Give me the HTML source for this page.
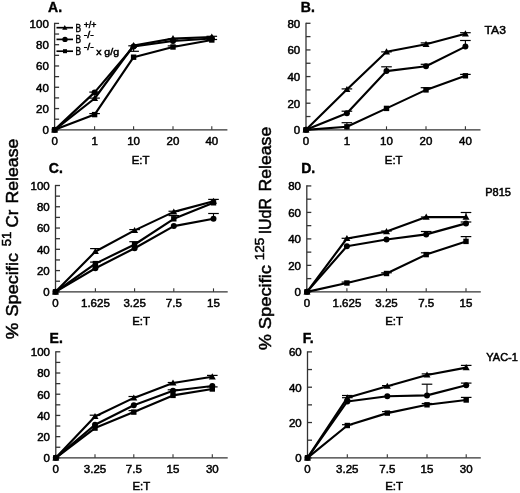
<!DOCTYPE html>
<html><head><meta charset="utf-8"><style>
html,body{margin:0;padding:0;background:#fff;}
svg{display:block;will-change:transform;}
text{font-family:"Liberation Sans", sans-serif;fill:#000;}
.tl{font-size:11.5px;stroke:#000;stroke-width:0.5px;}
.et{font-size:11.4px;stroke:#000;stroke-width:0.5px;}
.pl{font-size:14px;font-weight:bold;stroke:#000;stroke-width:0.4px;}
.cl{font-size:11px;stroke:#000;stroke-width:0.5px;}
.lg{stroke:#000;stroke-width:0.5px;}
.yl{stroke:#000;stroke-width:0.5px;}
</style></head><body>
<svg width="520" height="493" viewBox="0 0 520 493">
<rect width="520" height="493" fill="#fff"/>
<line x1="54.6" y1="22.80" x2="54.6" y2="129.85" stroke="#333" stroke-width="1.3"/>
<line x1="54.6" y1="129.85" x2="227.4" y2="129.85" stroke="#333" stroke-width="1.3"/>
<line x1="54.6" y1="129.85" x2="59.10" y2="129.85" stroke="#333" stroke-width="1.3"/>
<text x="48.80" y="134.25" text-anchor="end" class="tl">0</text>
<line x1="54.6" y1="119.20" x2="59.10" y2="119.20" stroke="#333" stroke-width="1.3"/>
<line x1="54.6" y1="108.56" x2="59.10" y2="108.56" stroke="#333" stroke-width="1.3"/>
<text x="48.80" y="112.96" text-anchor="end" class="tl">20</text>
<line x1="54.6" y1="97.91" x2="59.10" y2="97.91" stroke="#333" stroke-width="1.3"/>
<line x1="54.6" y1="87.27" x2="59.10" y2="87.27" stroke="#333" stroke-width="1.3"/>
<text x="48.80" y="91.67" text-anchor="end" class="tl">40</text>
<line x1="54.6" y1="76.62" x2="59.10" y2="76.62" stroke="#333" stroke-width="1.3"/>
<line x1="54.6" y1="65.98" x2="59.10" y2="65.98" stroke="#333" stroke-width="1.3"/>
<text x="48.80" y="70.38" text-anchor="end" class="tl">60</text>
<line x1="54.6" y1="55.33" x2="59.10" y2="55.33" stroke="#333" stroke-width="1.3"/>
<line x1="54.6" y1="44.69" x2="59.10" y2="44.69" stroke="#333" stroke-width="1.3"/>
<text x="48.80" y="49.09" text-anchor="end" class="tl">80</text>
<line x1="54.6" y1="34.04" x2="59.10" y2="34.04" stroke="#333" stroke-width="1.3"/>
<line x1="54.6" y1="23.40" x2="59.10" y2="23.40" stroke="#333" stroke-width="1.3"/>
<text x="48.80" y="27.80" text-anchor="end" class="tl">100</text>
<text x="54.6" y="145.05" text-anchor="middle" class="tl">0</text>
<line x1="94.6" y1="126.35" x2="94.6" y2="129.85" stroke="#333" stroke-width="1.1"/>
<text x="94.6" y="145.05" text-anchor="middle" class="tl">1</text>
<line x1="133.6" y1="126.35" x2="133.6" y2="129.85" stroke="#333" stroke-width="1.1"/>
<text x="133.6" y="145.05" text-anchor="middle" class="tl">10</text>
<line x1="173.0" y1="126.35" x2="173.0" y2="129.85" stroke="#333" stroke-width="1.1"/>
<text x="173.0" y="145.05" text-anchor="middle" class="tl">20</text>
<line x1="211.8" y1="126.35" x2="211.8" y2="129.85" stroke="#333" stroke-width="1.1"/>
<text x="211.8" y="145.05" text-anchor="middle" class="tl">40</text>
<text x="140.60" y="163.80" text-anchor="middle" class="et">E:T</text>
<line x1="89.30" y1="92.10" x2="99.90" y2="92.10" stroke="#000" stroke-width="1.2"/>
<line x1="89.30" y1="98.10" x2="99.90" y2="98.10" stroke="#000" stroke-width="1.2"/>
<line x1="94.60" y1="114.60" x2="94.60" y2="113.60" stroke="#000" stroke-width="1.1"/>
<line x1="89.30" y1="113.60" x2="99.90" y2="113.60" stroke="#000" stroke-width="1.2"/>
<line x1="128.30" y1="45.80" x2="138.90" y2="45.80" stroke="#000" stroke-width="1.2"/>
<line x1="133.60" y1="46.50" x2="133.60" y2="51.30" stroke="#000" stroke-width="1.1"/>
<line x1="128.30" y1="51.30" x2="138.90" y2="51.30" stroke="#000" stroke-width="1.2"/>
<line x1="167.70" y1="39.00" x2="178.30" y2="39.00" stroke="#000" stroke-width="1.2"/>
<line x1="173.00" y1="47.00" x2="173.00" y2="45.90" stroke="#000" stroke-width="1.1"/>
<line x1="167.70" y1="45.90" x2="178.30" y2="45.90" stroke="#000" stroke-width="1.2"/>
<line x1="211.80" y1="37.00" x2="211.80" y2="36.30" stroke="#000" stroke-width="1.1"/>
<line x1="206.50" y1="36.30" x2="217.10" y2="36.30" stroke="#000" stroke-width="1.2"/>
<line x1="206.50" y1="39.50" x2="217.10" y2="39.50" stroke="#000" stroke-width="1.2"/>
<path d="M54.60 129.85 L94.60 114.60 L133.60 57.20 L173.00 47.00 L211.80 40.00" fill="none" stroke="#000" stroke-width="2.15" stroke-linejoin="round"/>
<rect x="51.90" y="127.15" width="5.40" height="5.40" fill="#000"/>
<rect x="91.90" y="111.90" width="5.40" height="5.40" fill="#000"/>
<rect x="130.90" y="54.50" width="5.40" height="5.40" fill="#000"/>
<rect x="170.30" y="44.30" width="5.40" height="5.40" fill="#000"/>
<rect x="209.10" y="37.30" width="5.40" height="5.40" fill="#000"/>
<path d="M54.60 129.85 L94.60 92.40 L133.60 46.50 L173.00 41.00 L211.80 38.50" fill="none" stroke="#000" stroke-width="2.15" stroke-linejoin="round"/>
<circle cx="54.60" cy="129.85" r="3.0" fill="#000"/>
<circle cx="94.60" cy="92.40" r="3.0" fill="#000"/>
<circle cx="133.60" cy="46.50" r="3.0" fill="#000"/>
<circle cx="173.00" cy="41.00" r="3.0" fill="#000"/>
<circle cx="211.80" cy="38.50" r="3.0" fill="#000"/>
<path d="M54.60 129.85 L94.60 98.50 L133.60 45.50 L173.00 38.60 L211.80 37.00" fill="none" stroke="#000" stroke-width="2.15" stroke-linejoin="round"/>
<path d="M54.60 126.35 L58.10 132.47 L51.10 132.47 Z" fill="#000"/>
<path d="M94.60 95.00 L98.10 101.12 L91.10 101.12 Z" fill="#000"/>
<path d="M133.60 42.00 L137.10 48.12 L130.10 48.12 Z" fill="#000"/>
<path d="M173.00 35.10 L176.50 41.23 L169.50 41.23 Z" fill="#000"/>
<path d="M211.80 33.50 L215.30 39.62 L208.30 39.62 Z" fill="#000"/>
<text x="48.1" y="11.9" class="pl">A.</text>
<line x1="306.0" y1="22.69" x2="306.0" y2="129.85" stroke="#333" stroke-width="1.3"/>
<line x1="306.0" y1="129.85" x2="480.5" y2="129.85" stroke="#333" stroke-width="1.3"/>
<line x1="306.0" y1="129.85" x2="310.50" y2="129.85" stroke="#333" stroke-width="1.3"/>
<text x="300.20" y="134.25" text-anchor="end" class="tl">0</text>
<line x1="306.0" y1="116.53" x2="310.50" y2="116.53" stroke="#333" stroke-width="1.3"/>
<line x1="306.0" y1="103.21" x2="310.50" y2="103.21" stroke="#333" stroke-width="1.3"/>
<text x="300.20" y="107.61" text-anchor="end" class="tl">20</text>
<line x1="306.0" y1="89.89" x2="310.50" y2="89.89" stroke="#333" stroke-width="1.3"/>
<line x1="306.0" y1="76.57" x2="310.50" y2="76.57" stroke="#333" stroke-width="1.3"/>
<text x="300.20" y="80.97" text-anchor="end" class="tl">40</text>
<line x1="306.0" y1="63.25" x2="310.50" y2="63.25" stroke="#333" stroke-width="1.3"/>
<line x1="306.0" y1="49.93" x2="310.50" y2="49.93" stroke="#333" stroke-width="1.3"/>
<text x="300.20" y="54.33" text-anchor="end" class="tl">60</text>
<line x1="306.0" y1="36.61" x2="310.50" y2="36.61" stroke="#333" stroke-width="1.3"/>
<line x1="306.0" y1="23.29" x2="310.50" y2="23.29" stroke="#333" stroke-width="1.3"/>
<text x="300.20" y="27.69" text-anchor="end" class="tl">80</text>
<text x="306.0" y="145.05" text-anchor="middle" class="tl">0</text>
<line x1="346.9" y1="126.35" x2="346.9" y2="129.85" stroke="#333" stroke-width="1.1"/>
<text x="346.9" y="145.05" text-anchor="middle" class="tl">1</text>
<line x1="386.5" y1="126.35" x2="386.5" y2="129.85" stroke="#333" stroke-width="1.1"/>
<text x="386.5" y="145.05" text-anchor="middle" class="tl">10</text>
<line x1="426.0" y1="126.35" x2="426.0" y2="129.85" stroke="#333" stroke-width="1.1"/>
<text x="426.0" y="145.05" text-anchor="middle" class="tl">20</text>
<line x1="465.4" y1="126.35" x2="465.4" y2="129.85" stroke="#333" stroke-width="1.1"/>
<text x="465.4" y="145.05" text-anchor="middle" class="tl">40</text>
<text x="393.70" y="164.10" text-anchor="middle" class="et">E:T</text>
<line x1="341.60" y1="88.90" x2="352.20" y2="88.90" stroke="#000" stroke-width="1.2"/>
<line x1="346.90" y1="113.20" x2="346.90" y2="111.20" stroke="#000" stroke-width="1.1"/>
<line x1="341.60" y1="111.20" x2="352.20" y2="111.20" stroke="#000" stroke-width="1.2"/>
<line x1="346.90" y1="126.80" x2="346.90" y2="122.70" stroke="#000" stroke-width="1.1"/>
<line x1="341.60" y1="122.70" x2="352.20" y2="122.70" stroke="#000" stroke-width="1.2"/>
<line x1="381.20" y1="51.90" x2="391.80" y2="51.90" stroke="#000" stroke-width="1.2"/>
<line x1="386.50" y1="71.10" x2="386.50" y2="66.80" stroke="#000" stroke-width="1.1"/>
<line x1="381.20" y1="66.80" x2="391.80" y2="66.80" stroke="#000" stroke-width="1.2"/>
<line x1="426.00" y1="44.30" x2="426.00" y2="42.90" stroke="#000" stroke-width="1.1"/>
<line x1="420.70" y1="42.90" x2="431.30" y2="42.90" stroke="#000" stroke-width="1.2"/>
<line x1="426.00" y1="66.20" x2="426.00" y2="64.30" stroke="#000" stroke-width="1.1"/>
<line x1="420.70" y1="64.30" x2="431.30" y2="64.30" stroke="#000" stroke-width="1.2"/>
<line x1="426.00" y1="89.90" x2="426.00" y2="87.70" stroke="#000" stroke-width="1.1"/>
<line x1="420.70" y1="87.70" x2="431.30" y2="87.70" stroke="#000" stroke-width="1.2"/>
<line x1="465.40" y1="33.80" x2="465.40" y2="32.70" stroke="#000" stroke-width="1.1"/>
<line x1="460.10" y1="32.70" x2="470.70" y2="32.70" stroke="#000" stroke-width="1.2"/>
<line x1="465.40" y1="46.60" x2="465.40" y2="40.50" stroke="#000" stroke-width="1.1"/>
<line x1="460.10" y1="40.50" x2="470.70" y2="40.50" stroke="#000" stroke-width="1.2"/>
<line x1="465.40" y1="75.80" x2="465.40" y2="74.40" stroke="#000" stroke-width="1.1"/>
<line x1="460.10" y1="74.40" x2="470.70" y2="74.40" stroke="#000" stroke-width="1.2"/>
<path d="M306.00 129.85 L346.90 126.80 L386.50 108.40 L426.00 89.90 L465.40 75.80" fill="none" stroke="#000" stroke-width="2.15" stroke-linejoin="round"/>
<rect x="303.30" y="127.15" width="5.40" height="5.40" fill="#000"/>
<rect x="344.20" y="124.10" width="5.40" height="5.40" fill="#000"/>
<rect x="383.80" y="105.70" width="5.40" height="5.40" fill="#000"/>
<rect x="423.30" y="87.20" width="5.40" height="5.40" fill="#000"/>
<rect x="462.70" y="73.10" width="5.40" height="5.40" fill="#000"/>
<path d="M306.00 129.85 L346.90 113.20 L386.50 71.10 L426.00 66.20 L465.40 46.60" fill="none" stroke="#000" stroke-width="2.15" stroke-linejoin="round"/>
<circle cx="306.00" cy="129.85" r="3.0" fill="#000"/>
<circle cx="346.90" cy="113.20" r="3.0" fill="#000"/>
<circle cx="386.50" cy="71.10" r="3.0" fill="#000"/>
<circle cx="426.00" cy="66.20" r="3.0" fill="#000"/>
<circle cx="465.40" cy="46.60" r="3.0" fill="#000"/>
<path d="M306.00 129.85 L346.90 89.40 L386.50 51.80 L426.00 44.30 L465.40 33.80" fill="none" stroke="#000" stroke-width="2.15" stroke-linejoin="round"/>
<path d="M306.00 126.35 L309.50 132.47 L302.50 132.47 Z" fill="#000"/>
<path d="M346.90 85.90 L350.40 92.03 L343.40 92.03 Z" fill="#000"/>
<path d="M386.50 48.30 L390.00 54.42 L383.00 54.42 Z" fill="#000"/>
<path d="M426.00 40.80 L429.50 46.92 L422.50 46.92 Z" fill="#000"/>
<path d="M465.40 30.30 L468.90 36.42 L461.90 36.42 Z" fill="#000"/>
<text x="300.8" y="12.4" class="pl">B.</text>
<line x1="55.5" y1="184.90" x2="55.5" y2="291.85" stroke="#333" stroke-width="1.3"/>
<line x1="55.5" y1="291.85" x2="227.7" y2="291.85" stroke="#333" stroke-width="1.3"/>
<line x1="55.5" y1="291.85" x2="60.00" y2="291.85" stroke="#333" stroke-width="1.3"/>
<text x="49.70" y="296.25" text-anchor="end" class="tl">0</text>
<line x1="55.5" y1="281.22" x2="60.00" y2="281.22" stroke="#333" stroke-width="1.3"/>
<line x1="55.5" y1="270.58" x2="60.00" y2="270.58" stroke="#333" stroke-width="1.3"/>
<text x="49.70" y="274.98" text-anchor="end" class="tl">20</text>
<line x1="55.5" y1="259.95" x2="60.00" y2="259.95" stroke="#333" stroke-width="1.3"/>
<line x1="55.5" y1="249.31" x2="60.00" y2="249.31" stroke="#333" stroke-width="1.3"/>
<text x="49.70" y="253.71" text-anchor="end" class="tl">40</text>
<line x1="55.5" y1="238.68" x2="60.00" y2="238.68" stroke="#333" stroke-width="1.3"/>
<line x1="55.5" y1="228.04" x2="60.00" y2="228.04" stroke="#333" stroke-width="1.3"/>
<text x="49.70" y="232.44" text-anchor="end" class="tl">60</text>
<line x1="55.5" y1="217.41" x2="60.00" y2="217.41" stroke="#333" stroke-width="1.3"/>
<line x1="55.5" y1="206.77" x2="60.00" y2="206.77" stroke="#333" stroke-width="1.3"/>
<text x="49.70" y="211.17" text-anchor="end" class="tl">80</text>
<line x1="55.5" y1="196.14" x2="60.00" y2="196.14" stroke="#333" stroke-width="1.3"/>
<line x1="55.5" y1="185.50" x2="60.00" y2="185.50" stroke="#333" stroke-width="1.3"/>
<text x="49.70" y="189.90" text-anchor="end" class="tl">100</text>
<text x="55.5" y="307.05" text-anchor="middle" class="tl">0</text>
<line x1="95.4" y1="288.35" x2="95.4" y2="291.85" stroke="#333" stroke-width="1.1"/>
<text x="95.4" y="307.05" text-anchor="middle" class="tl">1.625</text>
<line x1="134.6" y1="288.35" x2="134.6" y2="291.85" stroke="#333" stroke-width="1.1"/>
<text x="134.6" y="307.05" text-anchor="middle" class="tl">3.25</text>
<line x1="173.8" y1="288.35" x2="173.8" y2="291.85" stroke="#333" stroke-width="1.1"/>
<text x="173.8" y="307.05" text-anchor="middle" class="tl">7.5</text>
<line x1="213.5" y1="288.35" x2="213.5" y2="291.85" stroke="#333" stroke-width="1.1"/>
<text x="213.5" y="307.05" text-anchor="middle" class="tl">15</text>
<text x="141.10" y="325.40" text-anchor="middle" class="et">E:T</text>
<line x1="95.40" y1="251.50" x2="95.40" y2="248.60" stroke="#000" stroke-width="1.1"/>
<line x1="90.10" y1="248.60" x2="100.70" y2="248.60" stroke="#000" stroke-width="1.2"/>
<line x1="95.40" y1="263.60" x2="95.40" y2="262.10" stroke="#000" stroke-width="1.1"/>
<line x1="90.10" y1="262.10" x2="100.70" y2="262.10" stroke="#000" stroke-width="1.2"/>
<line x1="134.60" y1="230.40" x2="134.60" y2="229.60" stroke="#000" stroke-width="1.1"/>
<line x1="129.30" y1="229.60" x2="139.90" y2="229.60" stroke="#000" stroke-width="1.2"/>
<line x1="134.60" y1="244.50" x2="134.60" y2="241.70" stroke="#000" stroke-width="1.1"/>
<line x1="129.30" y1="241.70" x2="139.90" y2="241.70" stroke="#000" stroke-width="1.2"/>
<line x1="173.80" y1="211.90" x2="173.80" y2="211.25" stroke="#000" stroke-width="1.1"/>
<line x1="168.50" y1="211.25" x2="179.10" y2="211.25" stroke="#000" stroke-width="1.2"/>
<line x1="173.80" y1="218.80" x2="173.80" y2="215.60" stroke="#000" stroke-width="1.1"/>
<line x1="168.50" y1="215.60" x2="179.10" y2="215.60" stroke="#000" stroke-width="1.2"/>
<line x1="213.50" y1="201.20" x2="213.50" y2="199.40" stroke="#000" stroke-width="1.1"/>
<line x1="208.20" y1="199.40" x2="218.80" y2="199.40" stroke="#000" stroke-width="1.2"/>
<line x1="213.50" y1="218.70" x2="213.50" y2="213.50" stroke="#000" stroke-width="1.1"/>
<line x1="208.20" y1="213.50" x2="218.80" y2="213.50" stroke="#000" stroke-width="1.2"/>
<path d="M55.50 291.85 L95.40 263.60 L134.60 244.50 L173.80 218.80 L213.50 202.80" fill="none" stroke="#000" stroke-width="2.15" stroke-linejoin="round"/>
<rect x="52.80" y="289.15" width="5.40" height="5.40" fill="#000"/>
<rect x="92.70" y="260.90" width="5.40" height="5.40" fill="#000"/>
<rect x="131.90" y="241.80" width="5.40" height="5.40" fill="#000"/>
<rect x="171.10" y="216.10" width="5.40" height="5.40" fill="#000"/>
<rect x="210.80" y="200.10" width="5.40" height="5.40" fill="#000"/>
<path d="M55.50 291.85 L95.40 268.30 L134.60 248.20 L173.80 226.10 L213.50 218.70" fill="none" stroke="#000" stroke-width="2.15" stroke-linejoin="round"/>
<circle cx="55.50" cy="291.85" r="3.0" fill="#000"/>
<circle cx="95.40" cy="268.30" r="3.0" fill="#000"/>
<circle cx="134.60" cy="248.20" r="3.0" fill="#000"/>
<circle cx="173.80" cy="226.10" r="3.0" fill="#000"/>
<circle cx="213.50" cy="218.70" r="3.0" fill="#000"/>
<path d="M55.50 291.85 L95.40 251.50 L134.60 230.40 L173.80 211.90 L213.50 201.20" fill="none" stroke="#000" stroke-width="2.15" stroke-linejoin="round"/>
<path d="M55.50 288.35 L59.00 294.48 L52.00 294.48 Z" fill="#000"/>
<path d="M95.40 248.00 L98.90 254.12 L91.90 254.12 Z" fill="#000"/>
<path d="M134.60 226.90 L138.10 233.03 L131.10 233.03 Z" fill="#000"/>
<path d="M173.80 208.40 L177.30 214.53 L170.30 214.53 Z" fill="#000"/>
<path d="M213.50 197.70 L217.00 203.82 L210.00 203.82 Z" fill="#000"/>
<text x="48.8" y="172.8" class="pl">C.</text>
<line x1="306.8" y1="185.33" x2="306.8" y2="291.85" stroke="#333" stroke-width="1.3"/>
<line x1="306.8" y1="291.85" x2="480.8" y2="291.85" stroke="#333" stroke-width="1.3"/>
<line x1="306.8" y1="291.85" x2="311.30" y2="291.85" stroke="#333" stroke-width="1.3"/>
<text x="301.00" y="296.25" text-anchor="end" class="tl">0</text>
<line x1="306.8" y1="278.61" x2="311.30" y2="278.61" stroke="#333" stroke-width="1.3"/>
<line x1="306.8" y1="265.37" x2="311.30" y2="265.37" stroke="#333" stroke-width="1.3"/>
<text x="301.00" y="269.77" text-anchor="end" class="tl">20</text>
<line x1="306.8" y1="252.13" x2="311.30" y2="252.13" stroke="#333" stroke-width="1.3"/>
<line x1="306.8" y1="238.89" x2="311.30" y2="238.89" stroke="#333" stroke-width="1.3"/>
<text x="301.00" y="243.29" text-anchor="end" class="tl">40</text>
<line x1="306.8" y1="225.65" x2="311.30" y2="225.65" stroke="#333" stroke-width="1.3"/>
<line x1="306.8" y1="212.41" x2="311.30" y2="212.41" stroke="#333" stroke-width="1.3"/>
<text x="301.00" y="216.81" text-anchor="end" class="tl">60</text>
<line x1="306.8" y1="199.17" x2="311.30" y2="199.17" stroke="#333" stroke-width="1.3"/>
<line x1="306.8" y1="185.93" x2="311.30" y2="185.93" stroke="#333" stroke-width="1.3"/>
<text x="301.00" y="190.33" text-anchor="end" class="tl">80</text>
<text x="307.0" y="307.05" text-anchor="middle" class="tl">0</text>
<line x1="346.9" y1="288.35" x2="346.9" y2="291.85" stroke="#333" stroke-width="1.1"/>
<text x="346.9" y="307.05" text-anchor="middle" class="tl">1.625</text>
<line x1="386.5" y1="288.35" x2="386.5" y2="291.85" stroke="#333" stroke-width="1.1"/>
<text x="386.5" y="307.05" text-anchor="middle" class="tl">3.25</text>
<line x1="426.2" y1="288.35" x2="426.2" y2="291.85" stroke="#333" stroke-width="1.1"/>
<text x="426.2" y="307.05" text-anchor="middle" class="tl">7.5</text>
<line x1="466.0" y1="288.35" x2="466.0" y2="291.85" stroke="#333" stroke-width="1.1"/>
<text x="466.0" y="307.05" text-anchor="middle" class="tl">15</text>
<text x="394.00" y="325.40" text-anchor="middle" class="et">E:T</text>
<line x1="341.60" y1="238.30" x2="352.20" y2="238.30" stroke="#000" stroke-width="1.2"/>
<line x1="346.90" y1="283.00" x2="346.90" y2="282.10" stroke="#000" stroke-width="1.1"/>
<line x1="341.60" y1="282.10" x2="352.20" y2="282.10" stroke="#000" stroke-width="1.2"/>
<line x1="386.50" y1="231.60" x2="386.50" y2="231.00" stroke="#000" stroke-width="1.1"/>
<line x1="381.20" y1="231.00" x2="391.80" y2="231.00" stroke="#000" stroke-width="1.2"/>
<line x1="386.50" y1="273.50" x2="386.50" y2="272.80" stroke="#000" stroke-width="1.1"/>
<line x1="381.20" y1="272.80" x2="391.80" y2="272.80" stroke="#000" stroke-width="1.2"/>
<line x1="420.90" y1="217.00" x2="431.50" y2="217.00" stroke="#000" stroke-width="1.2"/>
<line x1="426.20" y1="234.40" x2="426.20" y2="231.50" stroke="#000" stroke-width="1.1"/>
<line x1="420.90" y1="231.50" x2="431.50" y2="231.50" stroke="#000" stroke-width="1.2"/>
<line x1="426.20" y1="254.60" x2="426.20" y2="252.80" stroke="#000" stroke-width="1.1"/>
<line x1="420.90" y1="252.80" x2="431.50" y2="252.80" stroke="#000" stroke-width="1.2"/>
<line x1="466.00" y1="217.10" x2="466.00" y2="212.50" stroke="#000" stroke-width="1.1"/>
<line x1="460.70" y1="212.50" x2="471.30" y2="212.50" stroke="#000" stroke-width="1.2"/>
<line x1="466.00" y1="223.40" x2="466.00" y2="222.00" stroke="#000" stroke-width="1.1"/>
<line x1="460.70" y1="222.00" x2="471.30" y2="222.00" stroke="#000" stroke-width="1.2"/>
<line x1="466.00" y1="241.40" x2="466.00" y2="236.60" stroke="#000" stroke-width="1.1"/>
<line x1="460.70" y1="236.60" x2="471.30" y2="236.60" stroke="#000" stroke-width="1.2"/>
<path d="M307.00 291.85 L346.90 283.00 L386.50 273.50 L426.20 254.60 L466.00 241.40" fill="none" stroke="#000" stroke-width="2.15" stroke-linejoin="round"/>
<rect x="304.30" y="289.15" width="5.40" height="5.40" fill="#000"/>
<rect x="344.20" y="280.30" width="5.40" height="5.40" fill="#000"/>
<rect x="383.80" y="270.80" width="5.40" height="5.40" fill="#000"/>
<rect x="423.50" y="251.90" width="5.40" height="5.40" fill="#000"/>
<rect x="463.30" y="238.70" width="5.40" height="5.40" fill="#000"/>
<path d="M307.00 291.85 L346.90 246.20 L386.50 239.50 L426.20 234.40 L466.00 223.40" fill="none" stroke="#000" stroke-width="2.15" stroke-linejoin="round"/>
<circle cx="307.00" cy="291.85" r="3.0" fill="#000"/>
<circle cx="346.90" cy="246.20" r="3.0" fill="#000"/>
<circle cx="386.50" cy="239.50" r="3.0" fill="#000"/>
<circle cx="426.20" cy="234.40" r="3.0" fill="#000"/>
<circle cx="466.00" cy="223.40" r="3.0" fill="#000"/>
<path d="M307.00 291.85 L346.90 238.50 L386.50 231.60 L426.20 217.10 L466.00 217.10" fill="none" stroke="#000" stroke-width="2.15" stroke-linejoin="round"/>
<path d="M307.00 288.35 L310.50 294.48 L303.50 294.48 Z" fill="#000"/>
<path d="M346.90 235.00 L350.40 241.12 L343.40 241.12 Z" fill="#000"/>
<path d="M386.50 228.10 L390.00 234.22 L383.00 234.22 Z" fill="#000"/>
<path d="M426.20 213.60 L429.70 219.72 L422.70 219.72 Z" fill="#000"/>
<path d="M466.00 213.60 L469.50 219.72 L462.50 219.72 Z" fill="#000"/>
<text x="301.2" y="172.8" class="pl">D.</text>
<line x1="55.8" y1="351.20" x2="55.8" y2="457.85" stroke="#333" stroke-width="1.3"/>
<line x1="55.8" y1="457.85" x2="227.7" y2="457.85" stroke="#333" stroke-width="1.3"/>
<line x1="55.8" y1="457.85" x2="60.30" y2="457.85" stroke="#333" stroke-width="1.3"/>
<text x="50.00" y="462.25" text-anchor="end" class="tl">0</text>
<line x1="55.8" y1="447.25" x2="60.30" y2="447.25" stroke="#333" stroke-width="1.3"/>
<line x1="55.8" y1="436.64" x2="60.30" y2="436.64" stroke="#333" stroke-width="1.3"/>
<text x="50.00" y="441.04" text-anchor="end" class="tl">20</text>
<line x1="55.8" y1="426.04" x2="60.30" y2="426.04" stroke="#333" stroke-width="1.3"/>
<line x1="55.8" y1="415.43" x2="60.30" y2="415.43" stroke="#333" stroke-width="1.3"/>
<text x="50.00" y="419.83" text-anchor="end" class="tl">40</text>
<line x1="55.8" y1="404.83" x2="60.30" y2="404.83" stroke="#333" stroke-width="1.3"/>
<line x1="55.8" y1="394.22" x2="60.30" y2="394.22" stroke="#333" stroke-width="1.3"/>
<text x="50.00" y="398.62" text-anchor="end" class="tl">60</text>
<line x1="55.8" y1="383.62" x2="60.30" y2="383.62" stroke="#333" stroke-width="1.3"/>
<line x1="55.8" y1="373.01" x2="60.30" y2="373.01" stroke="#333" stroke-width="1.3"/>
<text x="50.00" y="377.41" text-anchor="end" class="tl">80</text>
<line x1="55.8" y1="362.41" x2="60.30" y2="362.41" stroke="#333" stroke-width="1.3"/>
<line x1="55.8" y1="351.80" x2="60.30" y2="351.80" stroke="#333" stroke-width="1.3"/>
<text x="50.00" y="356.20" text-anchor="end" class="tl">100</text>
<text x="55.8" y="473.05" text-anchor="middle" class="tl">0</text>
<line x1="95.0" y1="454.35" x2="95.0" y2="457.85" stroke="#333" stroke-width="1.1"/>
<text x="95.0" y="473.05" text-anchor="middle" class="tl">3.25</text>
<line x1="133.8" y1="454.35" x2="133.8" y2="457.85" stroke="#333" stroke-width="1.1"/>
<text x="133.8" y="473.05" text-anchor="middle" class="tl">7.5</text>
<line x1="173.0" y1="454.35" x2="173.0" y2="457.85" stroke="#333" stroke-width="1.1"/>
<text x="173.0" y="473.05" text-anchor="middle" class="tl">15</text>
<line x1="212.3" y1="454.35" x2="212.3" y2="457.85" stroke="#333" stroke-width="1.1"/>
<text x="212.3" y="473.05" text-anchor="middle" class="tl">30</text>
<text x="141.30" y="490.30" text-anchor="middle" class="et">E:T</text>
<line x1="95.00" y1="416.50" x2="95.00" y2="415.20" stroke="#000" stroke-width="1.1"/>
<line x1="89.70" y1="415.20" x2="100.30" y2="415.20" stroke="#000" stroke-width="1.2"/>
<line x1="133.80" y1="397.90" x2="133.80" y2="396.50" stroke="#000" stroke-width="1.1"/>
<line x1="128.50" y1="396.50" x2="139.10" y2="396.50" stroke="#000" stroke-width="1.2"/>
<line x1="133.80" y1="412.10" x2="133.80" y2="410.60" stroke="#000" stroke-width="1.1"/>
<line x1="128.50" y1="410.60" x2="139.10" y2="410.60" stroke="#000" stroke-width="1.2"/>
<line x1="167.70" y1="382.50" x2="178.30" y2="382.50" stroke="#000" stroke-width="1.2"/>
<line x1="173.00" y1="390.80" x2="173.00" y2="389.80" stroke="#000" stroke-width="1.1"/>
<line x1="167.70" y1="389.80" x2="178.30" y2="389.80" stroke="#000" stroke-width="1.2"/>
<line x1="212.30" y1="376.80" x2="212.30" y2="375.40" stroke="#000" stroke-width="1.1"/>
<line x1="207.00" y1="375.40" x2="217.60" y2="375.40" stroke="#000" stroke-width="1.2"/>
<line x1="212.30" y1="386.00" x2="212.30" y2="386.90" stroke="#000" stroke-width="1.1"/>
<line x1="207.00" y1="386.90" x2="217.60" y2="386.90" stroke="#000" stroke-width="1.2"/>
<path d="M55.80 457.85 L95.00 428.10 L133.80 412.10 L173.00 395.40 L212.30 389.00" fill="none" stroke="#000" stroke-width="2.15" stroke-linejoin="round"/>
<rect x="53.10" y="455.15" width="5.40" height="5.40" fill="#000"/>
<rect x="92.30" y="425.40" width="5.40" height="5.40" fill="#000"/>
<rect x="131.10" y="409.40" width="5.40" height="5.40" fill="#000"/>
<rect x="170.30" y="392.70" width="5.40" height="5.40" fill="#000"/>
<rect x="209.60" y="386.30" width="5.40" height="5.40" fill="#000"/>
<path d="M55.80 457.85 L95.00 424.80 L133.80 405.30 L173.00 390.80 L212.30 386.00" fill="none" stroke="#000" stroke-width="2.15" stroke-linejoin="round"/>
<circle cx="55.80" cy="457.85" r="3.0" fill="#000"/>
<circle cx="95.00" cy="424.80" r="3.0" fill="#000"/>
<circle cx="133.80" cy="405.30" r="3.0" fill="#000"/>
<circle cx="173.00" cy="390.80" r="3.0" fill="#000"/>
<circle cx="212.30" cy="386.00" r="3.0" fill="#000"/>
<path d="M55.80 457.85 L95.00 416.50 L133.80 397.90 L173.00 383.00 L212.30 376.80" fill="none" stroke="#000" stroke-width="2.15" stroke-linejoin="round"/>
<path d="M55.80 454.35 L59.30 460.48 L52.30 460.48 Z" fill="#000"/>
<path d="M95.00 413.00 L98.50 419.12 L91.50 419.12 Z" fill="#000"/>
<path d="M133.80 394.40 L137.30 400.52 L130.30 400.52 Z" fill="#000"/>
<path d="M173.00 379.50 L176.50 385.62 L169.50 385.62 Z" fill="#000"/>
<path d="M212.30 373.30 L215.80 379.43 L208.80 379.43 Z" fill="#000"/>
<text x="49.6" y="342.9" class="pl">E.</text>
<line x1="307.5" y1="351.29" x2="307.5" y2="457.85" stroke="#333" stroke-width="1.3"/>
<line x1="307.5" y1="457.85" x2="480.8" y2="457.85" stroke="#333" stroke-width="1.3"/>
<line x1="307.5" y1="457.85" x2="312.00" y2="457.85" stroke="#333" stroke-width="1.3"/>
<text x="301.70" y="462.25" text-anchor="end" class="tl">0</text>
<line x1="307.5" y1="440.19" x2="312.00" y2="440.19" stroke="#333" stroke-width="1.3"/>
<line x1="307.5" y1="422.53" x2="312.00" y2="422.53" stroke="#333" stroke-width="1.3"/>
<text x="301.70" y="426.93" text-anchor="end" class="tl">20</text>
<line x1="307.5" y1="404.87" x2="312.00" y2="404.87" stroke="#333" stroke-width="1.3"/>
<line x1="307.5" y1="387.21" x2="312.00" y2="387.21" stroke="#333" stroke-width="1.3"/>
<text x="301.70" y="391.61" text-anchor="end" class="tl">40</text>
<line x1="307.5" y1="369.55" x2="312.00" y2="369.55" stroke="#333" stroke-width="1.3"/>
<line x1="307.5" y1="351.89" x2="312.00" y2="351.89" stroke="#333" stroke-width="1.3"/>
<text x="301.70" y="356.29" text-anchor="end" class="tl">60</text>
<text x="307.5" y="473.05" text-anchor="middle" class="tl">0</text>
<line x1="347.3" y1="454.35" x2="347.3" y2="457.85" stroke="#333" stroke-width="1.1"/>
<text x="347.3" y="473.05" text-anchor="middle" class="tl">3.25</text>
<line x1="387.3" y1="454.35" x2="387.3" y2="457.85" stroke="#333" stroke-width="1.1"/>
<text x="387.3" y="473.05" text-anchor="middle" class="tl">7.5</text>
<line x1="427.0" y1="454.35" x2="427.0" y2="457.85" stroke="#333" stroke-width="1.1"/>
<text x="427.0" y="473.05" text-anchor="middle" class="tl">15</text>
<line x1="466.2" y1="454.35" x2="466.2" y2="457.85" stroke="#333" stroke-width="1.1"/>
<text x="466.2" y="473.05" text-anchor="middle" class="tl">30</text>
<text x="394.10" y="490.40" text-anchor="middle" class="et">E:T</text>
<line x1="347.30" y1="397.80" x2="347.30" y2="395.50" stroke="#000" stroke-width="1.1"/>
<line x1="342.00" y1="395.50" x2="352.60" y2="395.50" stroke="#000" stroke-width="1.2"/>
<line x1="342.00" y1="397.70" x2="352.60" y2="397.70" stroke="#000" stroke-width="1.2"/>
<line x1="347.30" y1="425.50" x2="347.30" y2="424.70" stroke="#000" stroke-width="1.1"/>
<line x1="342.00" y1="424.70" x2="352.60" y2="424.70" stroke="#000" stroke-width="1.2"/>
<line x1="387.30" y1="386.20" x2="387.30" y2="385.60" stroke="#000" stroke-width="1.1"/>
<line x1="382.00" y1="385.60" x2="392.60" y2="385.60" stroke="#000" stroke-width="1.2"/>
<line x1="387.30" y1="413.10" x2="387.30" y2="411.60" stroke="#000" stroke-width="1.1"/>
<line x1="382.00" y1="411.60" x2="392.60" y2="411.60" stroke="#000" stroke-width="1.2"/>
<line x1="427.00" y1="375.00" x2="427.00" y2="373.90" stroke="#000" stroke-width="1.1"/>
<line x1="421.70" y1="373.90" x2="432.30" y2="373.90" stroke="#000" stroke-width="1.2"/>
<line x1="427.00" y1="395.40" x2="427.00" y2="384.20" stroke="#000" stroke-width="1.1"/>
<line x1="421.70" y1="384.20" x2="432.30" y2="384.20" stroke="#000" stroke-width="1.2"/>
<line x1="427.00" y1="404.80" x2="427.00" y2="403.50" stroke="#000" stroke-width="1.1"/>
<line x1="421.70" y1="403.50" x2="432.30" y2="403.50" stroke="#000" stroke-width="1.2"/>
<line x1="466.20" y1="367.60" x2="466.20" y2="365.40" stroke="#000" stroke-width="1.1"/>
<line x1="460.90" y1="365.40" x2="471.50" y2="365.40" stroke="#000" stroke-width="1.2"/>
<line x1="466.20" y1="385.30" x2="466.20" y2="383.10" stroke="#000" stroke-width="1.1"/>
<line x1="460.90" y1="383.10" x2="471.50" y2="383.10" stroke="#000" stroke-width="1.2"/>
<line x1="466.20" y1="400.00" x2="466.20" y2="397.40" stroke="#000" stroke-width="1.1"/>
<line x1="460.90" y1="397.40" x2="471.50" y2="397.40" stroke="#000" stroke-width="1.2"/>
<path d="M307.50 457.85 L347.30 425.50 L387.30 413.10 L427.00 404.80 L466.20 400.00" fill="none" stroke="#000" stroke-width="2.15" stroke-linejoin="round"/>
<rect x="304.80" y="455.15" width="5.40" height="5.40" fill="#000"/>
<rect x="344.60" y="422.80" width="5.40" height="5.40" fill="#000"/>
<rect x="384.60" y="410.40" width="5.40" height="5.40" fill="#000"/>
<rect x="424.30" y="402.10" width="5.40" height="5.40" fill="#000"/>
<rect x="463.50" y="397.30" width="5.40" height="5.40" fill="#000"/>
<path d="M307.50 457.85 L347.30 401.50 L387.30 396.30 L427.00 395.40 L466.20 385.30" fill="none" stroke="#000" stroke-width="2.15" stroke-linejoin="round"/>
<circle cx="307.50" cy="457.85" r="3.0" fill="#000"/>
<circle cx="347.30" cy="401.50" r="3.0" fill="#000"/>
<circle cx="387.30" cy="396.30" r="3.0" fill="#000"/>
<circle cx="427.00" cy="395.40" r="3.0" fill="#000"/>
<circle cx="466.20" cy="385.30" r="3.0" fill="#000"/>
<path d="M307.50 457.85 L347.30 397.80 L387.30 386.20 L427.00 375.00 L466.20 367.60" fill="none" stroke="#000" stroke-width="2.15" stroke-linejoin="round"/>
<path d="M307.50 454.35 L311.00 460.48 L304.00 460.48 Z" fill="#000"/>
<path d="M347.30 394.30 L350.80 400.43 L343.80 400.43 Z" fill="#000"/>
<path d="M387.30 382.70 L390.80 388.82 L383.80 388.82 Z" fill="#000"/>
<path d="M427.00 371.50 L430.50 377.62 L423.50 377.62 Z" fill="#000"/>
<path d="M466.20 364.10 L469.70 370.23 L462.70 370.23 Z" fill="#000"/>
<text x="302.7" y="342.9" class="pl">F.</text>
<text x="484.6" y="33.7" class="cl" style="font-size:11.8px" textLength="21.3" lengthAdjust="spacingAndGlyphs">TA3</text>
<text x="485.2" y="196" class="cl">P815</text>
<text x="486.3" y="361" class="cl">YAC-1</text>
<line x1="56.5" y1="27.7" x2="73" y2="27.7" stroke="#000" stroke-width="1.7"/>
<path d="M64.80 25.10 L67.40 29.65 L62.20 29.65 Z" fill="#000"/>
<text x="75.5" y="31.6" font-size="10.6" textLength="5.6" lengthAdjust="spacingAndGlyphs" class="lg">B</text>
<text x="83.7" y="27.8" font-size="9" textLength="12.7" lengthAdjust="spacingAndGlyphs" class="lg">+/+</text>
<line x1="56.5" y1="39.4" x2="73" y2="39.4" stroke="#000" stroke-width="1.7"/>
<circle cx="65.00" cy="39.40" r="2.7" fill="#000"/>
<text x="75.5" y="43.3" font-size="10.6" textLength="5.6" lengthAdjust="spacingAndGlyphs" class="lg">B</text>
<text x="83.7" y="37.6" font-size="9" textLength="10.0" lengthAdjust="spacingAndGlyphs" class="lg">-/-</text>
<line x1="56.5" y1="51.2" x2="73" y2="51.2" stroke="#000" stroke-width="1.7"/>
<rect x="63.00" y="49.20" width="4.00" height="4.00" fill="#000"/>
<text x="75.5" y="55.1" font-size="10.6" textLength="5.6" lengthAdjust="spacingAndGlyphs" class="lg">B</text>
<text x="83.7" y="49.6" font-size="9" textLength="10.0" lengthAdjust="spacingAndGlyphs" class="lg">-/-</text>
<text x="96.2" y="54.5" font-size="9.5" textLength="22.8" lengthAdjust="spacingAndGlyphs" class="lg">x g/g</text>
<text transform="translate(17.6,493) rotate(-90)" x="153.70" y="0" font-size="16.5" textLength="16.50" lengthAdjust="spacingAndGlyphs" class="yl">%</text>
<text transform="translate(17.6,493) rotate(-90)" x="176.50" y="0" font-size="16.5" textLength="63.50" lengthAdjust="spacingAndGlyphs" class="yl">Specific</text>
<text transform="translate(11.2,493) rotate(-90)" x="246.80" y="0" font-size="12.5" textLength="14.50" lengthAdjust="spacingAndGlyphs" class="yl">51</text>
<text transform="translate(17.6,493) rotate(-90)" x="265.60" y="0" font-size="16.5" textLength="17.80" lengthAdjust="spacingAndGlyphs" class="yl">Cr</text>
<text transform="translate(17.6,493) rotate(-90)" x="289.50" y="0" font-size="16.5" textLength="64.80" lengthAdjust="spacingAndGlyphs" class="yl">Release</text>
<text transform="translate(271.3,493) rotate(-90)" x="143.00" y="0" font-size="16.5" textLength="15.90" lengthAdjust="spacingAndGlyphs" class="yl">%</text>
<text transform="translate(271.3,493) rotate(-90)" x="163.80" y="0" font-size="16.5" textLength="64.20" lengthAdjust="spacingAndGlyphs" class="yl">Specific</text>
<text transform="translate(264.0,493) rotate(-90)" x="232.70" y="0" font-size="13" textLength="22.50" lengthAdjust="spacingAndGlyphs" class="yl">125</text>
<text transform="translate(271.3,493) rotate(-90)" x="258.70" y="0" font-size="16.5" textLength="36.30" lengthAdjust="spacingAndGlyphs" class="yl">IUdR</text>
<text transform="translate(271.3,493) rotate(-90)" x="301.40" y="0" font-size="16.5" textLength="64.90" lengthAdjust="spacingAndGlyphs" class="yl">Release</text>
</svg>
</body></html>
